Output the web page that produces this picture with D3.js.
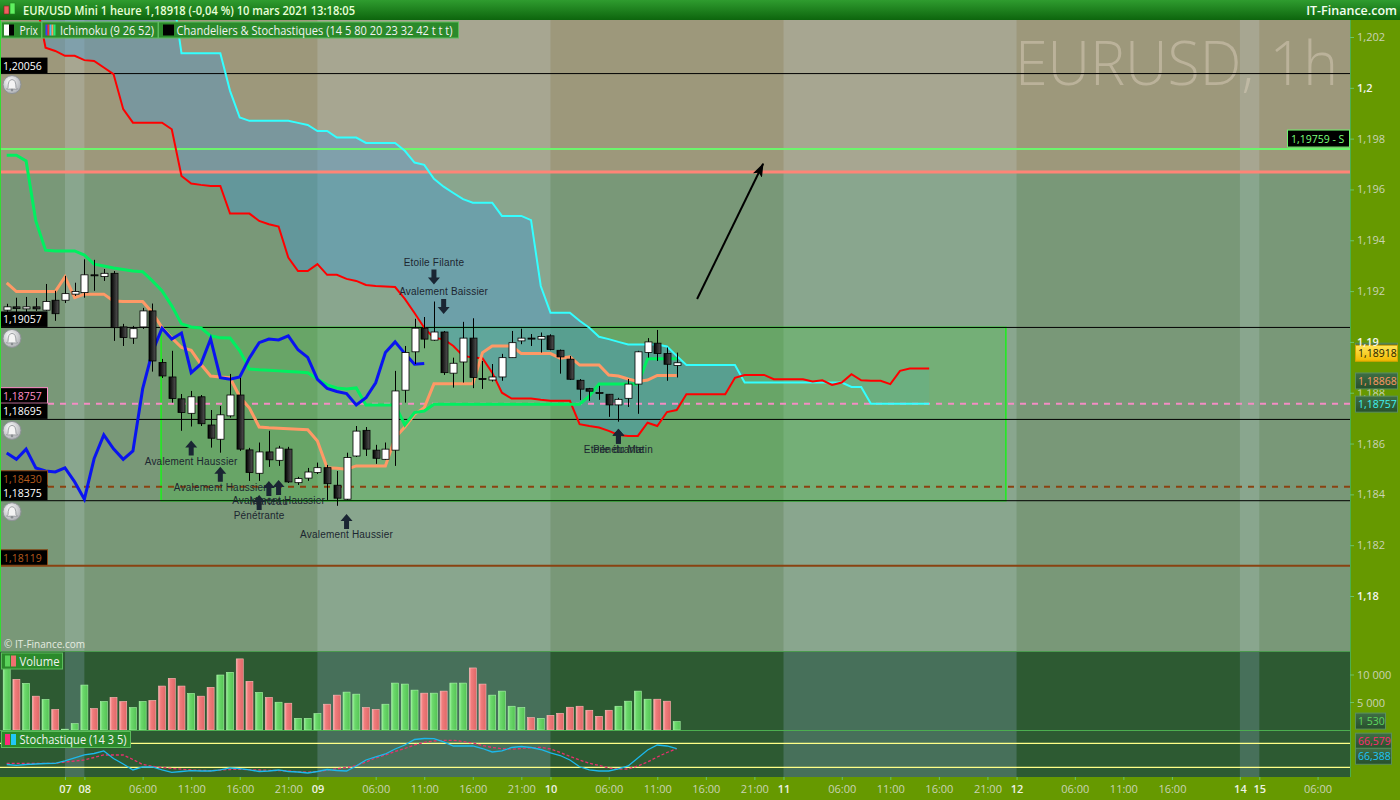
<!DOCTYPE html>
<html>
<head>
<meta charset="utf-8">
<title>EUR/USD Mini 1 heure</title>
<script src="https://cdn.jsdelivr.net/npm/d3@7/dist/d3.min.js"></script>
<style>
  body { margin: 0; background: #669900; }
  svg { display: block; font-family: "Open Sans", "DejaVu Sans", sans-serif; }
</style>
</head>
<body>
<svg id="chart" width="1400" height="800"></svg>
<script>
// bar index 0 = first visible hourly bar (5 mars), one bar per hour
// [open, high, low, close]
var ohlc = [
  [1.19125,1.19150,1.19118,1.19138],[1.19138,1.19174,1.19096,1.19131],[1.19130,1.19177,1.19114,1.19138],
  [1.19138,1.19173,1.19122,1.19130],[1.19125,1.19228,1.19122,1.19159],[1.19164,1.19201,1.19083,1.19111],
  [1.19164,1.19260,1.19153,1.19190],[1.19188,1.19233,1.19181,1.19198],[1.19194,1.19325,1.19174,1.19264],
  [1.19264,1.19323,1.19201,1.19262],[1.19257,1.19287,1.19240,1.19270],[1.19270,1.19279,1.19004,1.19056],
  [1.19059,1.19071,1.18984,1.19017],[1.19015,1.19063,1.18992,1.19052],[1.19059,1.19134,1.19051,1.19122],
  [1.19122,1.19151,1.18883,1.18925],[1.18919,1.18933,1.18858,1.18866],[1.18862,1.18965,1.18761,1.18777],
  [1.18776,1.18795,1.18650,1.18722],[1.18719,1.18807,1.18667,1.18784],[1.18784,1.18791,1.18669,1.18678],
  [1.18673,1.18732,1.18584,1.18621],[1.18617,1.18748,1.18564,1.18713],[1.18709,1.18874,1.18702,1.18791],
  [1.18791,1.18858,1.18571,1.18578],[1.18575,1.18583,1.18453,1.18486],[1.18483,1.18604,1.18453,1.18567],
  [1.18567,1.18650,1.18508,1.18536],[1.18534,1.18591,1.18512,1.18582],[1.18578,1.18587,1.18445,1.18449],
  [1.18446,1.18469,1.18437,1.18462],[1.18464,1.18504,1.18453,1.18488],[1.18486,1.18525,1.18480,1.18505],
  [1.18505,1.18516,1.18378,1.18442],[1.18436,1.18492,1.18355,1.18385],[1.18381,1.18564,1.18378,1.18545],
  [1.18551,1.18669,1.18547,1.18649],[1.18652,1.18665,1.18551,1.18578],[1.18574,1.18595,1.18520,1.18542],
  [1.18538,1.18604,1.18536,1.18578],[1.18574,1.18886,1.18512,1.18807],[1.18810,1.18984,1.18761,1.18958],
  [1.18961,1.19091,1.18913,1.19054],[1.19054,1.19098,1.18975,1.19011],[1.19007,1.19159,1.19004,1.19039],
  [1.19039,1.19043,1.18870,1.18879],[1.18877,1.18938,1.18820,1.18916],[1.18921,1.19079,1.18840,1.19015],
  [1.19015,1.19093,1.18818,1.18860],[1.18856,1.18925,1.18815,1.18853],[1.18850,1.18913,1.18844,1.18862],
  [1.18862,1.18953,1.18847,1.18938],[1.18938,1.19043,1.18937,1.18997],[1.19004,1.19052,1.18991,1.19015],
  [1.19015,1.19031,1.18984,1.19013],[1.19011,1.19037,1.18958,1.19021],[1.19024,1.19030,1.18967,1.18970],
  [1.18967,1.18970,1.18875,1.18941],[1.18932,1.18945,1.18850,1.18853],[1.18849,1.18854,1.18771,1.18814],
  [1.18816,1.18819,1.18768,1.18806],[1.18801,1.18827,1.18772,1.18799],[1.18794,1.18795,1.18705,1.18752],
  [1.18752,1.18780,1.18686,1.18774],[1.18778,1.18854,1.18744,1.18834],[1.18834,1.18965,1.18717,1.18961],
  [1.18958,1.19015,1.18938,1.19000],[1.18995,1.19047,1.18925,1.18954],[1.18954,1.18978,1.18847,1.18912],
  [1.18907,1.18958,1.18860,1.18918]
];

var volume = [11280,9210,8480,6150,5550,3720,150,1150,8170,3900,
  5180,5920,5180,4080,5180,5370,7990,9390,7990,6650,
  6150,7750,10000,10490,12930,8850,6830,5920,5050,4870,
  2120,2120,2980,4690,6340,6890,6520,4080,3720,4690,
  8530,8350,7250,6700,6700,7070,8530,8530,11280,8350,
  6340,7070,4320,4080,2250,2120,2670,3040,4140,4320,
  3590,2490,3590,4320,5240,7070,5600,5600,5240,1530];

// ichimoku (9 26 52)
var tenkan = [1.19735,1.19735,1.19712,1.19476,1.19361,1.19358,1.19358,1.19358,1.19342,1.19306,
  1.19299,1.19291,1.19285,1.19279,1.19276,1.19240,1.19201,1.19142,1.19071,1.19059,
  1.19055,1.19024,1.19016,1.19015,1.18965,1.18893,1.18890,1.18888,1.18886,1.18884,
  1.18882,1.18879,1.18854,1.18831,1.18819,1.18815,1.18819,1.18752,1.18752,1.18752,
  1.18752,1.18673,1.18722,1.18728,1.18755,1.18755,1.18755,1.18755,1.18755,1.18755,
  1.18755,1.18755,1.18755,1.18755,1.18755,1.18755,1.18755,1.18755,1.18755,1.18755,
  1.18787,1.18834,1.18834,1.18834,1.18834,1.18834,1.18934,1.18934,1.18934,1.18934];

var kijun = [1.19232,1.19198,1.19198,1.19198,1.19198,1.19198,1.19256,1.19174,1.19188,1.19188,
  1.19188,1.19161,1.19159,1.19159,1.19159,1.19115,1.19056,1.19016,1.18978,1.18967,
  1.18912,1.18866,1.18862,1.18859,1.18784,1.18740,1.18665,1.18662,1.18660,1.18658,
  1.18656,1.18654,1.18610,1.18505,1.18503,1.18499,1.18512,1.18512,1.18512,1.18512,
  1.18623,1.18665,1.18715,1.18741,1.18835,1.18835,1.18835,1.18835,1.18835,1.18958,
  1.18984,1.18984,1.18984,1.18954,1.18954,1.18954,1.18954,1.18936,1.18941,1.18909,
  1.18909,1.18909,1.18870,1.18866,1.18854,1.18844,1.18850,1.18868,1.18868,1.18868];

var chikou = [1.18563,1.18538,1.18578,1.18504,1.18492,1.18488,1.18504,1.18449,1.18381,1.18540,
  1.18634,1.18579,1.18538,1.18571,1.18815,1.18961,1.19054,1.19011,1.19035,1.18879,
  1.18913,1.19012,1.18859,1.18853,1.18862,1.18937,1.18997,1.19011,1.19008,1.19024,
  1.18969,1.18939,1.18853,1.18817,1.18805,1.18797,1.18752,1.18780,1.18839,1.18958,
  1.19000,1.18954,1.18912,1.18915];

// senkou spans start at bar 3 and run 26 bars past the last candle
var spanStart = 3;
var spanA = [1.2035,1.20158,1.20145,1.20126,1.20126,1.20109,1.20106,1.20080,1.20054,1.19916,
  1.19863,1.19863,1.19863,1.19863,1.19837,1.19653,1.19623,1.19618,1.19614,1.19614,
  1.19505,1.19505,1.19505,1.19476,1.19463,1.19454,1.19332,1.19279,1.19279,1.19306,
  1.19264,1.19264,1.19248,1.19240,1.19224,1.19220,1.19218,1.19216,1.19169,1.19114,
  1.19056,1.19015,1.19011,1.18984,1.18945,1.18939,1.18936,1.18879,1.18800,1.18777,
  1.18777,1.18777,1.18772,1.18768,1.18768,1.18768,1.18676,1.18669,1.18663,1.18650,
  1.18634,1.18630,1.18630,1.18682,1.18669,1.18724,1.18732,1.18794,1.18794,1.18794,
  1.18794,1.18794,1.18859,1.18870,1.18870,1.18870,1.18853,1.18853,1.18853,1.18853,
  1.18844,1.18849,1.18831,1.18840,1.18873,1.18849,1.18847,1.18847,1.18834,1.18886,
  1.18895,1.18895,1.18895];
var spanB = [1.2040,1.2040,1.2040,1.2040,1.2040,1.2040,1.2040,1.2040,1.2040,1.2040,
  1.2040,1.2040,1.2040,1.2040,1.2040,1.20136,1.20136,1.20136,1.20136,1.20136,
  1.19988,1.19883,1.19870,1.19870,1.19870,1.19870,1.19870,1.19862,1.19854,1.19830,
  1.19830,1.19804,1.19804,1.19804,1.19783,1.19783,1.19783,1.19783,1.19752,1.19706,
  1.19697,1.19642,1.19611,1.19586,1.19562,1.19548,1.19548,1.19548,1.19496,1.19496,
  1.19496,1.19479,1.19220,1.19115,1.19115,1.19115,1.19083,1.19056,1.19020,1.19011,
  1.19000,1.18990,1.18990,1.18990,1.18990,1.18982,1.18945,1.18909,1.18909,1.18909,
  1.18909,1.18909,1.18909,1.18840,1.18840,1.18840,1.18840,1.18840,1.18840,1.18840,
  1.18840,1.18840,1.18840,1.18840,1.18823,1.18823,1.18757,1.18757,1.18757,1.18757,
  1.18757,1.18757,1.18757];

// stochastique (14 3 5)
var stochK = [27,25,27,28.3,29.5,30,36.3,43.3,50.8,54.5,
  60.8,42,28.3,13.3,20.8,20.8,13.3,7.5,9.5,11.5,
  10.8,10.8,13.3,18.3,16.5,13.3,9.5,10.8,13.3,9.5,
  8.3,5.8,9.5,14.5,12,10.8,23.3,38.3,45.8,53.3,
  65.8,75.8,89.5,92,91.5,83.3,73.3,73.3,73.3,67,
  58.3,60.8,69.5,72,69.5,64.5,55.8,49.5,38.3,21.3,
  13.3,10.8,10.8,15.8,23.3,43.3,63.3,75.8,73.3,66.388];
var stochD = [30,30,30,30,30,30,33.3,35.8,38.3,44.5,
  50.8,50.8,50.8,39.5,27,22.5,19.5,17,15.3,13.3,
  12.5,11.5,13.3,14.5,15,14,13.3,12.5,11.8,10.8,
  8.8,7.8,9.3,12.8,16.3,19.5,24.3,33.3,43.3,50.8,
  59.5,67,75.8,82.5,85.8,87.5,87.5,84.5,80.8,74.5,
  69.5,66.5,65.3,67,68.8,70,65.8,57,47.5,38.3,
  30,24.5,18.3,15.3,15.8,23.3,33.3,45.8,57,66.579];

// time axis
var tickIdx = [6,8,14,19,24,29,32,38,43,48,53,56,62,67,72,77,80,86,91,96,101,104,110,115,120,127,129,135];
var tickLabels = ["07","08","06:00","11:00","16:00","21:00","09","06:00","11:00","16:00","21:00","10",
  "06:00","11:00","16:00","21:00","11","06:00","11:00","16:00","21:00","12","06:00","11:00","16:00","14","15","06:00"];
var dayBands = [[6,8],[32,56],[80,104],[127,129]];   // lighter (alternate) days

var priceTicks = [1.18,1.182,1.184,1.186,1.188,1.192,1.194,1.196,1.198,1.2,1.202];
var priceTicksTop = [1.19];      // drawn over the value tags
var volTicks = [5000, 10000];

// drawn levels
var levels = [
  {p: 1.20056, color: "#000", w: 1, tag: "#fff", bell: true},
  {p: 1.19759, color: "#6cf56c", w: 2},
  {p: 1.19669, color: "#ff8577", w: 3},
  {p: 1.19057, color: "#000", w: 1, tag: "#fff", bell: true},
  {p: 1.18757, color: "#f48cc4", w: 2, dash: "6,6", tag: "#ff8fc8", border: "#ff8fc8"},
  {p: 1.18695, color: "#000", w: 1, tag: "#fff", bell: true},
  {p: 1.18430, color: "#8a4210", w: 2, dash: "6,6", tag: "#b25a1c", border: "#8a4a18"},
  {p: 1.18375, color: "#000", w: 1, tag: "#fff", bell: true},
  {p: 1.18119, color: "#8a4210", w: 2, tag: "#b25a1c", border: "#8a4a18"}
];
var zoneTop = 1.19669;   // tan zone above the salmon line
var box = {i0: 15.9, i1: 102.9, p0: 1.19057, p1: 1.18375};
var trend = {i0: 71.1, p0: 1.19169, i1: 77.9, p1: 1.19701};

var patterns = [
  {i: 19, t: "Avalement Haussier", up: true},
  {i: 22, t: "Avalement Haussier", up: true},
  {i: 26, t: "Pénétrante", up: true},
  {i: 27, t: "Marteau", up: true},
  {i: 28, t: "Avalement Haussier", up: true},
  {i: 35, t: "Avalement Haussier", up: true},
  {i: 44, t: "Etoile Filante", up: false},
  {i: 45, t: "Avalement Baissier", up: false},
  {i: 63, t: "Etoile du Matin", up: true, dy: -7},
  {i: 63, t: "Pénétrante", up: true, dy: -7}
];

// ---------------------------------------------------------------
var plotR = 1350, priceTop = 20, priceBot = 651, volBot = 730, stochBot = 777;

var x = d3.scaleLinear().domain([0, 69]).range([6.7, 676.7]);
var y = d3.scaleLinear().domain([1.18, 1.202]).range([596, 37]);
var yv = d3.scaleLinear().domain([0, 10000]).range([730, 675]);
var ys = d3.scaleLinear().domain([0, 100]).range([775.3, 735.3]);

var fmt5 = function(p) { return d3.format(".5f")(p).replace(".", ","); };
var fmtVol = function(v) { return d3.format(",")(v).replace(/,/g, " "); };

var svg = d3.select("#chart");
var defs = svg.append("defs");

function grad(id, x2, y2, stops) {
  var g = defs.append("linearGradient").attr("id", id)
    .attr("x1", 0).attr("y1", 0).attr("x2", x2).attr("y2", y2);
  stops.forEach(function(s) { g.append("stop").attr("offset", s[0]).attr("stop-color", s[1]); });
}
grad("gTitle", 0, 1, [[0, "#2f9c2f"], [1, "#0d650d"]]);
grad("gBlack", 1, 0, [[0, "#000"], [1, "#555"]]);
grad("gGreen", 1, 0, [[0, "#9af29a"], [0.3, "#6cd86c"], [1, "#54c454"]]);
grad("gRed", 1, 0, [[0, "#ffb0b0"], [0.3, "#f07c7c"], [1, "#e06868"]]);
grad("gYellow", 0, 1, [[0, "#ffe75a"], [1, "#f2b800"]]);
grad("gTag", 0, 1, [[0, "#3f6e45"], [1, "#27502c"]]);
var rg = defs.append("radialGradient").attr("id", "gBell").attr("cx", 0.4).attr("cy", 0.35).attr("r", 0.7);
rg.append("stop").attr("offset", 0).attr("stop-color", "#ffffff");
rg.append("stop").attr("offset", 1).attr("stop-color", "#a9acb0");

defs.append("clipPath").attr("id", "cPrice").append("rect")
  .attr("x", 0).attr("y", priceTop).attr("width", plotR).attr("height", priceBot - priceTop);
defs.append("clipPath").attr("id", "cLow").append("rect")
  .attr("x", 0).attr("y", priceBot).attr("width", plotR).attr("height", stochBot - priceBot);

defs.append("marker").attr("id", "head").attr("markerUnits", "userSpaceOnUse")
  .attr("markerWidth", 14).attr("markerHeight", 10).attr("refX", 13).attr("refY", 5)
  .attr("orient", "auto")
  .append("path").attr("d", "M0,0 L14,5 L0,10 L3,5 Z").attr("fill", "#000");

// ---- price panel ----
var pp = svg.append("g").attr("clip-path", "url(#cPrice)");
pp.append("rect").attr("x", 0).attr("y", priceTop).attr("width", plotR)
  .attr("height", y(zoneTop) - priceTop).attr("fill", "#9d987b");
pp.append("rect").attr("x", 0).attr("y", y(zoneTop)).attr("width", plotR)
  .attr("height", priceBot - y(zoneTop)).attr("fill", "#799878");
pp.selectAll("rect.band").data(dayBands).enter().append("rect").attr("class", "band")
  .attr("x", function(d) { return x(d[0]); }).attr("y", priceTop)
  .attr("width", function(d) { return x(d[1]) - x(d[0]); }).attr("height", priceBot - priceTop)
  .attr("fill", "rgba(220,235,255,0.17)");

pp.append("text").attr("x", 1015).attr("y", 85).attr("textLength", 323)
  .attr("lengthAdjust", "spacingAndGlyphs")
  .style("font-size", "60px").style("font-weight", 300).attr("fill", "rgba(212,200,180,0.55)")
  .text("EURUSD, 1h");

pp.append("rect")
  .attr("x", x(box.i0)).attr("y", y(box.p0))
  .attr("width", x(box.i1) - x(box.i0)).attr("height", y(box.p1) - y(box.p0))
  .attr("fill", "rgba(60,200,60,0.28)").attr("stroke", "#1cf01c").attr("stroke-width", 1.5);

var cloudUp = d3.area()
  .x(function(d, k) { return x(spanStart + k); })
  .y0(function(d, k) { return y(spanA[k]); })
  .y1(function(d, k) { return y(Math.max(spanA[k], spanB[k])); });
var cloudDn = d3.area()
  .x(function(d, k) { return x(spanStart + k); })
  .y0(function(d, k) { return y(spanA[k]); })
  .y1(function(d, k) { return y(Math.min(spanA[k], spanB[k])); });
pp.append("path").attr("d", cloudUp(spanA)).attr("fill", "rgba(60,150,220,0.36)");
pp.append("path").attr("d", cloudDn(spanA)).attr("fill", "rgba(90,175,150,0.3)");

levels.forEach(function(l) {
  pp.append("line").attr("x1", 0).attr("x2", plotR).attr("y1", y(l.p)).attr("y2", y(l.p))
    .attr("stroke", l.color).attr("stroke-width", l.w).attr("stroke-dasharray", l.dash || null);
});

function seriesLine(start) {
  return d3.line().x(function(d, k) { return x(start + k); }).y(function(d) { return y(d); });
}
pp.append("path").attr("d", seriesLine(spanStart)(spanB)).attr("fill", "none")
  .attr("stroke", "#33ffff").attr("stroke-width", 2);
pp.append("path").attr("d", seriesLine(spanStart)(spanA)).attr("fill", "none")
  .attr("stroke", "#ff0000").attr("stroke-width", 2);
pp.append("path").attr("d", seriesLine(0)(kijun)).attr("fill", "none")
  .attr("stroke", "#ff9966").attr("stroke-width", 3);
pp.append("path").attr("d", seriesLine(0)(tenkan)).attr("fill", "none")
  .attr("stroke", "#00f060").attr("stroke-width", 3);
pp.append("path").attr("d", seriesLine(0)(chikou)).attr("fill", "none")
  .attr("stroke", "#0a14f0").attr("stroke-width", 3);

// candles
var cg = pp.append("g");
cg.selectAll("line.wick").data(ohlc).enter().append("line")
  .attr("x1", function(d, i) { return Math.round(x(i)) + 0.5; })
  .attr("x2", function(d, i) { return Math.round(x(i)) + 0.5; })
  .attr("y1", function(d) { return y(d[1]); }).attr("y2", function(d) { return y(d[2]); })
  .attr("stroke", "#000").attr("stroke-width", 1);
cg.selectAll("rect.body").data(ohlc).enter().append("rect")
  .attr("x", function(d, i) { return Math.round(x(i)) - 3; })
  .attr("width", 7)
  .attr("y", function(d) { return y(Math.max(d[0], d[3])); })
  .attr("height", function(d) { return Math.max(1, Math.abs(y(d[0]) - y(d[3]))); })
  .attr("fill", function(d) { return d[3] >= d[0] ? "#fff" : "url(#gBlack)"; })
  .attr("stroke", "#000").attr("stroke-width", 0.8);

// candle patterns
function arrowPath(cx, tip, up) {
  var s = up ? 1 : -1;
  return "M" + cx + "," + tip + " L" + (cx + 6) + "," + (tip + 7 * s) + " L" + (cx + 2.5) + "," + (tip + 7 * s) +
    " L" + (cx + 2.5) + "," + (tip + 15 * s) + " L" + (cx - 2.5) + "," + (tip + 15 * s) +
    " L" + (cx - 2.5) + "," + (tip + 7 * s) + " L" + (cx - 6) + "," + (tip + 7 * s) + " Z";
}
patterns.forEach(function(p) {
  var c = ohlc[p.i], cx = x(p.i);
  var tip = (p.up ? y(c[2]) + 14 : y(c[1]) - 17) + (p.dy || 0);
  pp.append("path").attr("d", arrowPath(cx, tip, p.up)).attr("fill", "#1a2533");
  pp.append("text").attr("x", cx).attr("y", p.up ? tip + 24 : tip - 19)
    .attr("text-anchor", "middle").attr("fill", "#1c2630")
    .style("font-family", "'Liberation Sans', Arial, sans-serif").style("font-size", "10px")
    .style("letter-spacing", "0.2px")
    .text(p.t);
});

pp.append("line")
  .attr("x1", x(trend.i0)).attr("y1", y(trend.p0)).attr("x2", x(trend.i1)).attr("y2", y(trend.p1))
  .attr("stroke", "#000").attr("stroke-width", 2).attr("marker-end", "url(#head)");

// level tags on the left + alert bells
levels.filter(function(l) { return l.tag; }).forEach(function(l) {
  var yy = y(l.p);
  pp.append("rect").attr("x", 0.5).attr("y", yy - 16).attr("width", 47).attr("height", 15.5)
    .attr("fill", "#000").attr("stroke", l.border || "none");
  pp.append("text").attr("x", 3).attr("y", yy - 4).attr("fill", l.tag)
    .style("font-size", "10.5px").text(fmt5(l.p));
  if (l.bell) {
    var b = pp.append("g").attr("transform", "translate(12," + (yy + 11) + ")");
    b.append("circle").attr("r", 9).attr("fill", "url(#gBell)").attr("stroke", "#8e9296");
    b.append("path").attr("d", "M-4,3 Q-4,-5 0,-5 Q4,-5 4,3 L5.5,4.5 L-5.5,4.5 Z")
      .attr("fill", "#f4f4f4").attr("stroke", "#8a8e92").attr("stroke-width", 0.8);
    b.append("circle").attr("cy", 5.5).attr("r", 1.3).attr("fill", "#8a8e92");
  }
});

// support tag on the right
var ySup = y(1.19759);
pp.append("rect").attr("x", 1287.5).attr("y", ySup - 19).attr("width", 62).attr("height", 17)
  .attr("fill", "#000").attr("stroke", "#6cf56c");
pp.append("text").attr("x", 1291).attr("y", ySup - 6).attr("fill", "#7dff7d")
  .style("font-size", "10.5px").text(fmt5(1.19759) + " - S");

pp.append("text").attr("x", 4).attr("y", 648).attr("fill", "#e6ece0")
  .style("font-size", "10px").text("© IT-Finance.com");
pp.append("line").attr("x1", 0.5).attr("x2", 0.5).attr("y1", priceTop).attr("y2", priceBot)
  .attr("stroke", "#33dd33");

// ---- volume + stochastic panels ----
var lp = svg.append("g").attr("clip-path", "url(#cLow)");
lp.append("rect").attr("x", 0).attr("y", priceBot).attr("width", plotR)
  .attr("height", stochBot - priceBot).attr("fill", "#2d5a32");
lp.selectAll("rect.band").data(dayBands).enter().append("rect")
  .attr("x", function(d) { return x(d[0]); }).attr("y", priceBot)
  .attr("width", function(d) { return x(d[1]) - x(d[0]); }).attr("height", stochBot - priceBot)
  .attr("fill", "#47705a");

lp.selectAll("rect.vol").data(volume).enter().append("rect")
  .attr("x", function(d, i) { return x(i) - 3.5; }).attr("width", 7)
  .attr("y", function(d) { return yv(d); })
  .attr("height", function(d) { return yv(0) - yv(d); })
  .attr("fill", function(d, i) { return ohlc[i][3] >= ohlc[i][0] ? "url(#gGreen)" : "url(#gRed)"; })
  .attr("stroke", function(d, i) { return ohlc[i][3] >= ohlc[i][0] ? "#a8f5a8" : "#ffb8b8"; })
  .attr("stroke-width", 0.6);

lp.append("line").attr("x1", 0).attr("x2", plotR).attr("y1", volBot + 0.5).attr("y2", volBot + 0.5)
  .attr("stroke", "#4cae50").attr("stroke-width", 1.2);
[80, 20].forEach(function(v) {
  lp.append("line").attr("x1", 0).attr("x2", plotR).attr("y1", ys(v)).attr("y2", ys(v))
    .attr("stroke", "#ffff88").attr("stroke-width", 1.2);
});
var stLine = d3.line().x(function(d, i) { return x(i); }).y(function(d) { return ys(d); });
lp.append("path").attr("d", stLine(stochD)).attr("fill", "none")
  .attr("stroke", "#e8306e").attr("stroke-width", 1.3).attr("stroke-dasharray", "3,2");
lp.append("path").attr("d", stLine(stochK)).attr("fill", "none")
  .attr("stroke", "#1cb8ec").attr("stroke-width", 1.3);
lp.append("line").attr("x1", 0).attr("x2", plotR).attr("y1", priceBot + 0.5).attr("y2", priceBot + 0.5)
  .attr("stroke", "#4a9a4e");

// ---- header & legends ----
svg.append("rect").attr("x", 0).attr("y", 0).attr("width", 1400).attr("height", 20).attr("fill", "url(#gTitle)");
svg.append("rect").attr("x", 4).attr("y", 6).attr("width", 5).attr("height", 8).attr("fill", "#f06060").attr("stroke", "#802020").attr("stroke-width", 0.6);
svg.append("rect").attr("x", 10).attr("y", 3).attr("width", 5).attr("height", 11).attr("fill", "#60f060").attr("stroke", "#208020").attr("stroke-width", 0.6);
svg.append("text").attr("x", 23).attr("y", 15).attr("textLength", 332).attr("lengthAdjust", "spacingAndGlyphs")
  .attr("fill", "#e8ffd8").style("font-size", "12.5px").style("font-weight", 600)
  .text("EUR/USD Mini 1 heure 1,18918 (-0,04 %) 10 mars 2021 13:18:05");
svg.append("text").attr("x", 1397).attr("y", 15).attr("text-anchor", "end")
  .attr("fill", "#f2fff0").style("font-size", "12.5px").style("font-weight", 600).text("IT-Finance.com");

function legendBox(x0, w, yTop, label, textW, icon) {
  var g = svg.append("g");
  g.append("rect").attr("x", x0 + 0.5).attr("y", yTop + 0.5).attr("width", w).attr("height", 16)
    .attr("fill", "#2b8a2b").attr("stroke", "#5cbc5c");
  icon(g, x0 + 3, yTop + 3);
  g.append("text").attr("x", x0 + 18.5).attr("y", yTop + 13).attr("fill", "#f2f2f2")
    .attr("textLength", textW).attr("lengthAdjust", "spacingAndGlyphs")
    .style("font-size", "12px").text(label);
  return g;
}
legendBox(1, 40, 21.5, "Prix", 18.5, function(g, a, b) {
  g.append("rect").attr("x", a).attr("y", b).attr("width", 5).attr("height", 11).attr("fill", "#fff");
  g.append("rect").attr("x", a + 5).attr("y", b).attr("width", 5).attr("height", 11).attr("fill", "#000");
});
legendBox(41.5, 116, 21.5, "Ichimoku (9 26 52)", 94, function(g, a, b) {
  ["#3b3bff", "#ff2a2a", "#33c8ff", "#ff9966", "#22ee77"].forEach(function(c, k) {
    g.append("rect").attr("x", a + 1 + k * 2).attr("y", b).attr("width", 2).attr("height", 11).attr("fill", c);
  });
});
legendBox(158, 300, 21.5, "Chandeliers & Stochastiques (14 5 80 20 23 32 42 t t t)", 276, function(g, a, b) {
  g.append("rect").attr("x", a + 2).attr("y", b).attr("width", 11).attr("height", 11).attr("fill", "#000");
});
legendBox(1, 61, 652.5, "Volume", 40, function(g, a, b) {
  g.append("rect").attr("x", a + 1).attr("y", b).attr("width", 5).attr("height", 11).attr("fill", "#5ad25a");
  g.append("rect").attr("x", a + 7).attr("y", b).attr("width", 5).attr("height", 11).attr("fill", "#f07070");
});
legendBox(1, 129, 731, "Stochastique (14 3 5)", 107, function(g, a, b) {
  g.append("rect").attr("x", a + 1).attr("y", b).attr("width", 5).attr("height", 11).attr("fill", "#ff2a7a");
  g.append("rect").attr("x", a + 7).attr("y", b).attr("width", 5).attr("height", 11).attr("fill", "#22c8f8");
});

// ---- axes ----
svg.append("line").attr("x1", plotR + 0.5).attr("x2", plotR + 0.5).attr("y1", priceTop).attr("y2", stochBot)
  .attr("stroke", "#4caf50");

function styleAxis(a) {
  a.select(".domain").remove();
  a.selectAll(".tick line").attr("stroke", "#6cc46c");
  a.selectAll(".tick text").attr("fill", "#c9d3b5").style("font-size", "11px")
    .style("font-family", "'Open Sans', sans-serif");
  return a;
}
var priceFmt = function(d) { return String(+d.toFixed(3)).replace(".", ","); };

// price ticks below the value tags
var ya = styleAxis(svg.append("g").attr("transform", "translate(" + plotR + ",0)")
  .call(d3.axisRight(y).tickValues(priceTicks).tickSize(4).tickPadding(3).tickFormat(priceFmt)));
ya.selectAll(".tick text").filter(function(d) { return Math.abs(d * 100 - Math.round(d * 100)) < 1e-6; })
  .attr("fill", "#f2f4ee").style("font-weight", 600);

// volume ticks
var vg = svg.append("g").attr("transform", "translate(" + plotR + ",0)");
vg.selectAll("line").data(volTicks).enter().append("line")
  .attr("x1", 0).attr("x2", 4).attr("y1", function(d) { return yv(d); }).attr("y2", function(d) { return yv(d); })
  .attr("stroke", "#6cc46c");
vg.selectAll("text").data(volTicks).enter().append("text")
  .attr("x", 7).attr("y", function(d) { return yv(d) + 4; })
  .attr("fill", "#c9d3b5").style("font-size", "11px").text(fmtVol);

// value tags on the price axis
function valueTag(yTop, w, label, fill, color, stroke) {
  svg.append("rect").attr("x", 1355.5).attr("y", yTop + 0.5).attr("width", w).attr("height", 16)
    .attr("fill", fill).attr("stroke", stroke || "#5a8f5e");
  svg.append("text").attr("x", 1358).attr("y", yTop + 12.5).attr("fill", color)
    .style("font-size", "10.5px").text(label);
}
valueTag(y(tenkan[69]) - 16, 42, fmt5(tenkan[69]), "url(#gTag)", "#38ff88");
valueTag(y(ohlc[69][3]) - 18, 42, fmt5(ohlc[69][3]), "url(#gYellow)", "#1a1a00", "#d9a400");
valueTag(y(kijun[69]) - 3, 42, fmt5(kijun[69]), "url(#gTag)", "#ff9966");
valueTag(y(spanB[spanB.length - 1]) - 8, 42, fmt5(spanB[spanB.length - 1]), "url(#gTag)", "#3ff0f0");
valueTag(yv(volume[69]) - 9, 30, fmtVol(volume[69]), "url(#gTag)", "#5fd65f");
valueTag(ys(stochD[69]) - 16, 36, d3.format(".3f")(stochD[69]).replace(".", ","), "url(#gTag)", "#ff2a72");
valueTag(ys(stochK[69]) - 1, 36, d3.format(".3f")(stochK[69]).replace(".", ","), "url(#gTag)", "#1ec4f8");

// the round 1,19 tick stays on top of the tags
var ya2 = styleAxis(svg.append("g").attr("transform", "translate(" + plotR + ",0)")
  .call(d3.axisRight(y).tickValues(priceTicksTop).tickSize(4).tickPadding(3).tickFormat(priceFmt)));
ya2.selectAll(".tick text").attr("fill", "#f2f4ee").style("font-weight", 600);

var xa = styleAxis(svg.append("g").attr("transform", "translate(0," + stochBot + ")")
  .call(d3.axisBottom(x).tickValues(tickIdx).tickSize(3).tickPadding(5)
    .tickFormat(function(d, i) { return tickLabels[i]; })));
xa.selectAll(".tick text").filter(function(d, i) { return tickLabels[i].length === 2; })
  .attr("fill", "#eef2e4").style("font-weight", 600);
</script>
</body>
</html>
